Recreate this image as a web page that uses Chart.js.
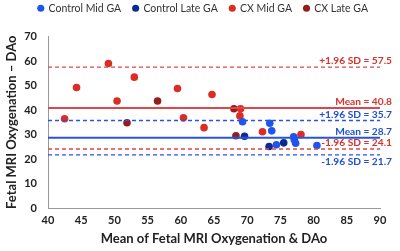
<!DOCTYPE html>
<html>
<head>
<meta charset="utf-8">
<script src="https://cdn.jsdelivr.net/npm/chart.js@4"></script>
<style>
  html, body { margin: 0; padding: 0; background: #fff; }
  #wrap { width: 400px; height: 251px; }
</style>
</head>
<body>
<div id="wrap"><canvas id="chart" width="400" height="251"></canvas></div>
<script>
// --- Data ---
const controlMidX = [69.3, 73.4, 73.7, 77.0, 77.1, 77.3, 74.4, 80.5];
const controlMidY = [35.2, 34.6, 31.5, 29.1, 27.9, 26.4, 25.8, 25.5];

const controlLateX = [69.6, 73.3, 75.5];
const controlLateY = [29.3, 25.1, 26.6];

const cxMidX = [42.5, 44.3, 49.1, 50.4, 53.0, 59.5, 60.4, 63.5, 64.7, 69.0, 68.9, 72.3, 78.1];
const cxMidY = [36.4, 49.2, 59.0, 43.7, 53.4, 48.8, 36.8, 32.8, 46.3, 40.5, 37.6, 31.1, 30.0];

const cxLateX = [51.9, 56.5, 68.0, 68.3];
const cxLateY = [34.8, 43.7, 40.5, 29.5];

// limits of agreement (value, label, colour group, dashed)
const limitValues = [57.5, 40.8, 35.7, 28.7, 24.1, 21.7];
const limitLabels = ['+1.96 SD = 57.5', 'Mean = 40.8', '+1.96 SD = 35.7', 'Mean = 28.7', '-1.96 SD = 24.1', '-1.96 SD = 21.7'];
const limitGroup = ['cx', 'cx', 'control', 'control', 'cx', 'control'];
const limitDashed = [true, false, true, false, true, true];

const xRange = [40, 90];

const RED = '#dc2d24';
const DARK_RED = '#951d1a';
const BLUE = '#1f55ec';
const NAVY = '#0d2a92';
const LINE_RED = '#e04646';
const LINE_BLUE = '#2553e6';
const TEXT_RED = '#d9312b';
const TEXT_BLUE = '#1f4fd8';

const FONT = 'Lato, "Liberation Sans", sans-serif';

function toPoints(xs, ys) {
    return xs.map((x, i) => ({ x: x, y: ys[i] }));
}

function scatterSet(label, xs, ys, color) {
    return {
        type: 'scatter',
        label: label,
        data: toPoints(xs, ys),
        backgroundColor: color,
        borderColor: color,
        borderWidth: 0,
        pointRadius: 3.8,
        pointHoverRadius: 3.8
    };
}

// reference lines as two-point line datasets
const lineSets = limitValues.map((v, i) => ({
    type: 'line',
    label: '_line' + i,
    data: [{ x: xRange[0], y: v }, { x: xRange[1], y: v }],
    borderColor: limitGroup[i] === 'cx' ? LINE_RED : LINE_BLUE,
    borderWidth: limitDashed[i] ? 1.4 : 2,
    borderDash: limitDashed[i] ? [4, 3] : [],
    pointRadius: 0,
    fill: false
}));

// labels for the reference lines, placed with the chart's own scales
const limitLabelPlugin = {
    id: 'limitLabels',
    afterDatasetsDraw(chart) {
        const ctx = chart.ctx;
        const yScale = chart.scales.y;
        const right = chart.chartArea.right + 12;
        ctx.save();
        ctx.font = 'bold 10.2px ' + FONT;
        ctx.textAlign = 'right';
        ctx.textBaseline = 'middle';
        limitValues.forEach((v, i) => {
            const y = yScale.getPixelForValue(v);
            const off = i === limitValues.length - 1 ? 7 : -6;
            ctx.fillStyle = limitGroup[i] === 'cx' ? TEXT_RED : TEXT_BLUE;
            ctx.fillText(limitLabels[i], right, y + off);
        });
        ctx.restore();
    }
};

// give the legend box some extra room underneath
const legendSpacer = {
    id: 'legendSpacer',
    beforeInit(chart) {
        const fit = chart.legend.fit;
        chart.legend.fit = function () {
            fit.call(this);
            this.height += 13;
        };
    }
};

new Chart(document.getElementById('chart').getContext('2d'), {
    data: {
        datasets: [
            ...lineSets,
            scatterSet('Control Mid GA', controlMidX, controlMidY, BLUE),
            scatterSet('Control Late GA', controlLateX, controlLateY, NAVY),
            scatterSet('CX Mid GA', cxMidX, cxMidY, RED),
            scatterSet('CX Late GA', cxLateX, cxLateY, DARK_RED)
        ]
    },
    options: {
        responsive: false,
        animation: false,
        layout: { padding: { top: -9, right: 20, left: 0, bottom: 0 } },
        plugins: {
            tooltip: { enabled: false },
            legend: {
                position: 'top',
                align: 'end',
                labels: {
                    usePointStyle: true,
                    pointStyle: 'circle',
                    boxWidth: 5,
                    boxHeight: 5,
                    padding: 12,
                    color: '#333',
                    font: { family: FONT, size: 10.5 },
                    filter: item => !item.text.startsWith('_line')
                }
            }
        },
        scales: {
            x: {
                type: 'linear',
                min: 40,
                max: 90,
                ticks: {
                    stepSize: 5,
                    color: '#222',
                    font: { family: FONT, size: 11, weight: 'bold' },
                    padding: 2
                },
                grid: { display: false, drawTicks: true, tickLength: 4, color: '#999' },
                border: { display: true, color: '#999' },
                title: {
                    display: true,
                    text: 'Mean of Fetal MRI Oxygenation & DAo',
                    color: '#222',
                    font: { family: FONT, size: 13, weight: 'bold' },
                    padding: { top: 6 }
                },
                afterFit: scale => { scale.height = 43; }
            },
            y: {
                type: 'linear',
                min: 0,
                max: 70,
                ticks: {
                    stepSize: 10,
                    color: '#222',
                    font: { family: FONT, size: 11, weight: 'bold' },
                    padding: 8
                },
                grid: { display: false, drawTicks: true, tickLength: 3, color: '#999' },
                border: { display: true, color: '#999' },
                title: {
                    display: true,
                    text: 'Fetal MRI Oxygenation – DAo',
                    color: '#222',
                    font: { family: FONT, size: 13, weight: 'bold' },
                    padding: { bottom: 4 }
                },
                afterFit: scale => { scale.width = 48; }
            }
        }
    },
    plugins: [limitLabelPlugin, legendSpacer]
});
</script>
</body>
</html>
